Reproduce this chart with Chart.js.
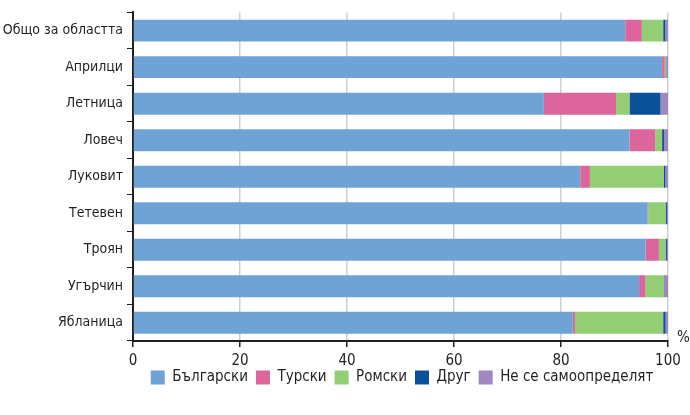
<!DOCTYPE html>
<html>
<head>
<meta charset="utf-8">
<script src="https://cdn.jsdelivr.net/npm/chart.js@4/dist/chart.umd.min.js"></script>
<style>
  html, body { margin: 0; padding: 0; background: #fff; }
  #wrap { width: 690px; height: 415px; }
</style>
</head>
<body>
<div id="wrap"><canvas id="ethnicChart"></canvas></div>
<script>
// data (percent of population)
const categories = ["Общо за областта", "Априлци", "Летница", "Ловеч", "Луковит", "Тетевен", "Троян", "Угърчин", "Ябланица"];
const bulgarian = [92.0, 98.9, 76.8, 92.8, 83.6, 96.2, 95.8, 94.6, 82.2];
const turkish   = [3.1, 0.5, 13.5, 4.8, 1.8, 0.1, 2.5, 1.2, 0.4];
const roma      = [4.0, 0.3, 2.5, 1.3, 13.85, 3.25, 1.25, 3.45, 16.5];
const other     = [0.4, 0.1, 5.8, 0.35, 0.25, 0.25, 0.25, 0.05, 0.45];
const undeclared = [0.5, 0.2, 1.4, 0.75, 0.5, 0.2, 0.2, 0.7, 0.45];
const xTicks = [0, 20, 40, 60, 80, 100];

const FONT = "'Liberation Sans Narrow', 'DejaVu Sans Condensed', sans-serif";
const textColor = "#231f20";

function makeSet(label, data, color) {
  return {
    label,
    data,
    backgroundColor: color,
    borderWidth: 0,
    barPercentage: 0.6,
    categoryPercentage: 1.0,
  };
}

// "%" unit label at the right end of the x axis
const unitLabel = {
  id: "unitLabel",
  afterDraw(chart) {
    const { ctx, chartArea } = chart;
    ctx.save();
    ctx.fillStyle = textColor;
    ctx.font = "15px " + FONT;
    ctx.textAlign = "left";
    ctx.textBaseline = "middle";
    ctx.fillText("%", chartArea.right + 9, chartArea.bottom - 3);
    ctx.restore();
  },
};

// legend in the reference sits centred under the plot area, a bit higher
const legendShift = {
  id: "legendShift",
  afterLayout(chart) {
    const lg = chart.legend;
    if (!lg) return;
    const dx = 68, dy = -13;
    lg.left += dx; lg.right += dx;
    lg.top += dy; lg.bottom += dy;
  },
};

new Chart(document.getElementById("ethnicChart").getContext("2d"), {
  type: "bar",
  data: {
    labels: categories,
    datasets: [
      makeSet("Български", bulgarian, "#6fa3d6"),
      makeSet("Турски", turkish, "#dc669b"),
      makeSet("Ромски", roma, "#93cd74"),
      makeSet("Друг", other, "#0a519a"),
      makeSet("Не се самоопределят", undeclared, "#9f87c0"),
    ],
  },
  options: {
    indexAxis: "y",
    responsive: true,
    maintainAspectRatio: false,
    animation: false,
    layout: { padding: { top: 12, right: 22, left: 0, bottom: 7 } },
    scales: {
      x: {
        stacked: true,
        min: 0,
        max: 100,
        afterBuildTicks: (scale) => {
          scale.ticks = xTicks.map((v) => ({ value: v }));
        },
        border: { display: true, color: "#231f20", width: 2 },
        grid: {
          color: "#cfcfcf",
          lineWidth: 1.5,
          tickColor: "#231f20",
          tickLength: 6,
          drawTicks: true,
        },
        ticks: {
          color: textColor,
          font: { family: FONT, size: 15 },
          padding: 5,
          maxRotation: 0,
        },
      },
      y: {
        stacked: true,
        afterFit: (scale) => { scale.width = 133; },
        border: { display: true, color: "#231f20", width: 2 },
        grid: {
          offset: true,
          drawOnChartArea: false,
          color: "#231f20",
          tickLength: 6,
        },
        ticks: {
          color: textColor,
          font: { family: FONT, size: 14 },
          padding: 4,
        },
      },
    },
    plugins: {
      legend: {
        position: "bottom",
        labels: {
          color: textColor,
          boxWidth: 14,
          boxHeight: 14,
          padding: 8,
          font: { family: FONT, size: 15 },
        },
      },
      tooltip: { enabled: false },
    },
  },
  plugins: [unitLabel, legendShift],
});
</script>
</body>
</html>
